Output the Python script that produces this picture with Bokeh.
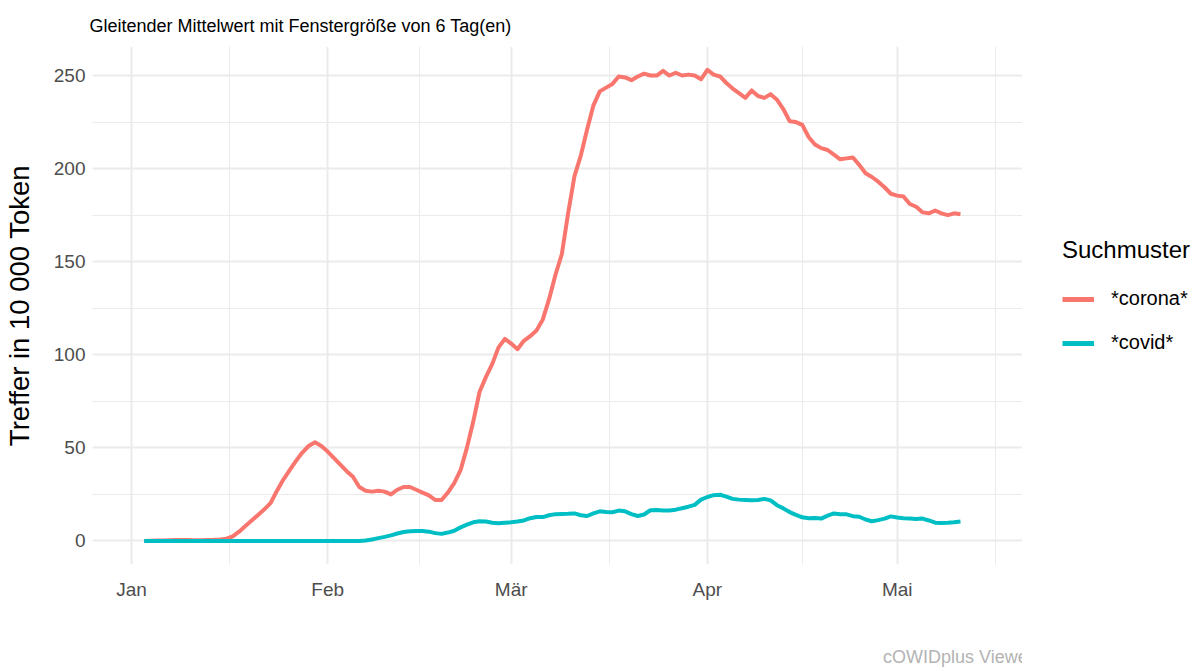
import pandas as pd
from bokeh.plotting import figure
from bokeh.layouts import row
from bokeh.models import (ColumnDataSource, Range1d, FixedTicker, SingleIntervalTicker,
                          Legend, LegendItem, Title)
from bokeh.embed import file_html
from bokeh.resources import INLINE

# ---- data ----
dates = pd.date_range("2020-01-03", "2020-05-11", freq="D")

corona = [
    0.0, 0.1, 0.2, 0.3, 0.4, 0.5, 0.5, 0.5, 0.4, 0.4, 0.5, 0.6, 0.8, 1.2, 2.5,
    5, 8, 11, 14, 17, 20.5, 27, 33, 38, 43, 47.5, 51, 53, 51, 48,
    44.5, 41, 37.5, 34.5, 29, 27, 26.5, 27, 26.5, 25, 27.5, 29, 29, 27.5, 26,
    24.5, 22, 22, 26, 31, 38, 50, 64, 80, 88, 95, 104, 108.5, 106, 103,
    107.5, 110, 113, 119, 130, 143, 154, 176, 196, 207, 221, 234, 241.5, 243.5, 245.5,
    249.5, 249, 247.5, 249.5, 251, 250, 250, 252.5, 250, 251.5, 250, 250.5, 250, 248, 253,
    250.5, 249.5, 246, 243, 240.5, 238, 242, 239, 238, 240, 237, 232, 225.5, 225, 223.5,
    217, 213, 211, 210, 207.5, 205, 205.5, 206, 202, 197.5, 195.5, 193, 190, 186.5, 185.5,
    185, 181, 179.5, 176.5, 176, 177.5, 176, 175, 176, 175.5,
]

covid = [0.0] * 35 + [
    0.2, 0.8, 1.5, 2.2, 3.0, 4.0, 4.8, 5.2, 5.3, 5.3, 5.0, 4.2, 3.8, 4.5, 5.5,
    7.3, 8.8, 10, 10.6, 10.4, 9.8, 9.5, 9.8, 10.0, 10.4, 11, 12.2, 12.9, 12.8, 13.8,
    14.4, 14.5, 14.6, 14.8, 13.8, 13.4, 14.8, 15.9, 15.6, 15.4, 16.3, 15.9, 14.4, 13.4, 14.2,
    16.5, 16.6, 16.4, 16.4, 16.8, 17.6, 18.4, 19.4, 22.2, 23.6, 24.6, 24.8, 23.8, 22.6, 22.2,
    22.0, 21.8, 22, 22.6, 21.8, 19.2, 17.5, 15.5, 14, 12.7, 12.2, 12.3, 12.0, 13.6, 14.8,
    14.4, 14.3, 13.3, 13.0, 11.5, 10.6, 11.2, 12.0, 13.2, 12.6, 12.2, 12.1, 11.8, 12.0, 11,
    9.8, 9.7, 9.8, 10, 10.4,
]

month_labels = ["Jan", "Feb", "Mär", "Apr", "Mai"]
month_starts = ["2020-01-01", "2020-02-01", "2020-03-01", "2020-04-01", "2020-05-01"]
series_names = ["*corona*", "*covid*"]
series_colors = ["#F8766D", "#00BFC4"]

# ---- derived ----
origin = pd.Timestamp("2020-01-01")
day = [(d - origin).days for d in dates]
src = ColumnDataSource(dict(day=day, corona=corona[:len(day)], covid=covid[:len(day)]))
major_days = [(pd.Timestamp(m) - origin).days for m in month_starts]
minor_days = [(major_days[i] + major_days[i + 1]) / 2 for i in range(len(major_days) - 1)]
minor_days.append(major_days[-1] + 15.5)

FONT = "Liberation Sans"
H = 669
W_MAIN = 1022
W_LEG = 1197 - W_MAIN
TOP = 46
BOTTOM = H - 571

p = figure(width=W_MAIN, height=H, output_backend="svg", toolbar_location=None,
           x_range=Range1d(-6.16, 140.8), y_range=Range1d(-12.65, 265.6),
           min_border_left=92, min_border_right=0, min_border_top=TOP, min_border_bottom=BOTTOM)
p.outline_line_color = None
p.background_fill_color = "white"
p.border_fill_color = "white"

r1 = p.line("day", "corona", source=src, line_color=series_colors[0], line_width=4, line_join="round")
r2 = p.line("day", "covid", source=src, line_color=series_colors[1], line_width=4, line_join="round")

# axes
p.xaxis.ticker = FixedTicker(ticks=major_days, minor_ticks=minor_days)
p.xaxis.major_label_overrides = {d: lab for d, lab in zip(major_days, month_labels)}
p.yaxis.ticker = SingleIntervalTicker(interval=50, num_minor_ticks=2)
for ax in (p.xaxis[0], p.yaxis[0]):
    ax.axis_line_color = None
    ax.major_tick_line_color = None
    ax.minor_tick_line_color = None
    ax.major_label_text_font = FONT
    ax.major_label_text_font_size = "19px"
    ax.major_label_text_color = "#4d4d4d"
p.xaxis.major_label_standoff = 8
p.yaxis.major_label_standoff = 1
p.yaxis.axis_label = "Treffer in 10 000 Token"
p.yaxis.axis_label_text_font = FONT
p.yaxis.axis_label_text_font_size = "27.5px"
p.yaxis.axis_label_text_font_style = "normal"
p.yaxis.axis_label_text_color = "black"
p.yaxis.axis_label_standoff = 16

# caption as the x axis label, right aligned
p.xaxis.axis_label = "cOWIDplus Viewer, IDS Mannheim"
p.xaxis.axis_label_align = "end"
p.xaxis.axis_label_text_font = FONT
p.xaxis.axis_label_text_font_size = "18px"
p.xaxis.axis_label_text_font_style = "normal"
p.xaxis.axis_label_text_color = "#b3b3b3"
p.xaxis.axis_label_standoff = 44

# grids
for g in (p.xgrid[0], p.ygrid[0]):
    g.grid_line_color = "#ebebeb"
    g.grid_line_width = 2
    g.minor_grid_line_color = "#ebebeb"
    g.minor_grid_line_width = 1

# title
t = Title(text="Gleitender Mittelwert mit Fenstergröße von 6 Tag(en)", align="left",
          vertical_align="top",
          text_font=FONT, text_font_size="18px", text_font_style="normal",
          text_color="black", standoff=18, offset=-3)
p.add_layout(t, "above")

# ---- legend panel ----
lg = figure(width=W_LEG, height=H, output_backend="svg", toolbar_location=None,
            x_range=Range1d(0, 1), y_range=Range1d(0, 1),
            x_axis_location=None, y_axis_location=None,
            min_border_left=40, min_border_right=0, min_border_top=TOP, min_border_bottom=BOTTOM)
lg.outline_line_color = None
lg.grid.visible = False
k1 = lg.line(x=[5, 6], y=[5, 6], line_color=series_colors[0], line_width=5)
k2 = lg.line(x=[5, 6], y=[5, 6], line_color=series_colors[1], line_width=5)
legend = Legend(items=[LegendItem(label=series_names[0], renderers=[k1]),
                       LegendItem(label=series_names[1], renderers=[k2])],
                location=(0, 571 - 244 - 117), title="Suchmuster",
                title_text_font=FONT, title_text_font_size="24px", title_text_font_style="normal",
                title_text_color="black", title_standoff=23,
                label_text_font=FONT, label_text_font_size="20px", label_text_color="black",
                glyph_width=32, glyph_height=22, label_height=22, label_standoff=17,
                spacing=21, padding=0, margin=0,
                border_line_color=None, background_fill_alpha=0)
lg.add_layout(legend)

open("out.html", "w").write(file_html(row(p, lg), INLINE))
